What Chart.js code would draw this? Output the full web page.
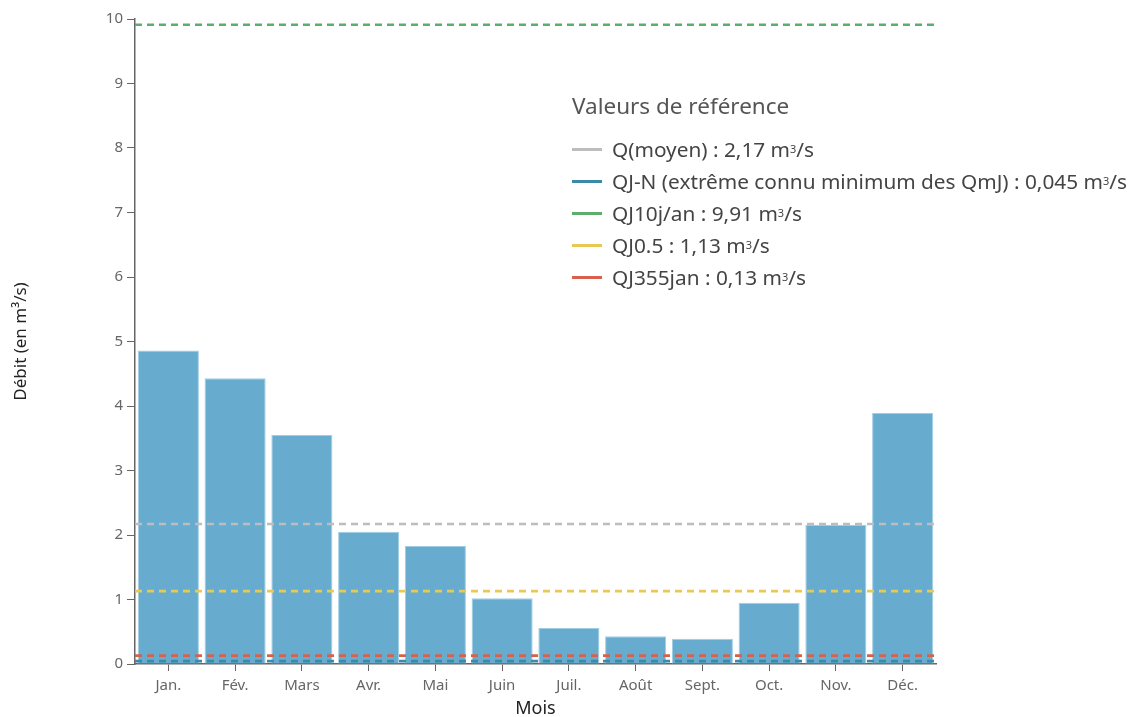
<!DOCTYPE html>
<html><head><meta charset="utf-8">
<script src="https://cdn.jsdelivr.net/npm/chart.js@4"></script>
<style>
html,body{margin:0;padding:0;background:#fff;}
#wrap{position:relative;width:1136px;height:717px;}
#legend{position:absolute;left:572px;top:89px;font-family:"Noto Sans",sans-serif;color:#444;}
#legend .title{font-size:22.5px;color:#555;height:34px;line-height:34px;margin-bottom:10px;}
#legend .item{height:32px;line-height:32px;font-size:20.8px;white-space:nowrap;display:flex;align-items:center;}
#legend .sw{display:inline-block;width:30px;height:3px;margin-right:10px;}
#legend sup{font-size:11px;vertical-align:9px;line-height:0;}
</style></head><body>
<div id="wrap"><canvas id="c" width="1136" height="717"></canvas><div id="legend"></div></div>
<script>
const months = ["Jan.","Fév.","Mars","Avr.","Mai","Juin","Juil.","Août","Sept.","Oct.","Nov.","Déc."];
const debits = [4.86,4.43,3.55,2.05,1.83,1.02,0.56,0.43,0.39,0.95,2.16,3.89];
const refNames = ["Q(moyen)","QJ-N (extrême connu minimum des QmJ)","QJ10j/an","QJ0.5","QJ355jan"];
const refValues = [2.17,0.045,9.91,1.13,0.13];
const refText = ["2,17","0,045","9,91","1,13","0,13"];
const refColors = ["#bdbdbd","#3b8aa6","#5cae6c","#e8c955","#d9614b"];
const yMin = 0, yMax = 10, yStep = 1;

const leg = document.getElementById('legend');
let html = '<div class="title">Valeurs de référence</div>';
refNames.forEach((n,i)=>{
  html += '<div class="item"><span class="sw" style="background:'+refColors[i]+'"></span>'+n+' : '+refText[i]+' m<sup>3</sup>/s</div>';
});
leg.innerHTML = html;

const datasets = [{
  type:'bar', label:'Débit', data: debits, xAxisID:'x', yAxisID:'y',
  backgroundColor:'#67acce', borderColor:'#9fcde4', borderWidth:1,
  barPercentage:1, categoryPercentage:0.915, grouped:false, order:2
}];
refValues.forEach((v,i)=>{
  datasets.push({type:'line', label:refNames[i], data:[{x:0,y:v},{x:12,y:v}], xAxisID:'x2', yAxisID:'y',
    borderColor:refColors[i], borderWidth:2.6, borderDash:[7,5], pointRadius:0, fill:false, order:1});
});

Chart.defaults.font.family = '"Noto Sans", sans-serif';
new Chart(document.getElementById('c'), {
  type:'bar',
  data:{labels:months, datasets},
  options:{
    responsive:false, animation:false,
    layout:{padding:{top:19,right:200,left:0,bottom:0}},
    plugins:{legend:{display:false}, tooltip:{enabled:false}},
    scales:{
      x:{type:'category', offset:true,
        grid:{display:true, drawOnChartArea:false, drawTicks:true, tickLength:7, color:'#666', offset:false},
        border:{display:true,color:'#666',width:1.5},
        ticks:{color:'#666', font:{size:15}, padding:6, maxRotation:0},
        title:{display:true, text:'Mois', color:'#222', font:{size:18}, padding:{top:4,bottom:-3}},
        afterFit:(s)=>{s.height=53;}
      },
      x2:{type:'linear', min:0, max:12, display:false, offset:false, grid:{offset:false}},
      y:{type:'linear', min:yMin, max:yMax,
        grid:{display:true, drawOnChartArea:false, drawTicks:true, tickLength:8, color:'#666'},
        border:{display:true,color:'#666',width:1.5},
        ticks:{stepSize:yStep, color:'#666', font:{size:15}, padding:4},
        title:{display:true, text:'Débit (en m³/s)', color:'#222', font:{size:17}, padding:{top:11,bottom:0}},
        afterFit:(s)=>{s.width=135;}
      }
    }
  }
});
</script>
</body></html>
